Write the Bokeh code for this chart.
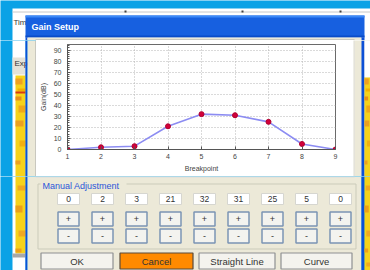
from bokeh.plotting import figure
from bokeh.models import Range1d, SingleIntervalTicker
from bokeh.layouts import column, row
from bokeh.embed import file_html
from bokeh.resources import INLINE
from bokeh.core.properties import value

# ---------------- data ----------------
breakpoints = [1, 2, 3, 4, 5, 6, 7, 8, 9]
gains = [0, 2, 3, 21, 32, 31, 25, 5, 0]
x_label = "Breakpoint"
y_label = "Gain(dB)"
title_text = "Gain Setup"
group_label = "Manual Adjustment"
button_labels = ["OK", "Cancel", "Straight Line", "Curve"]

FONT = value("Liberation Sans")
BLUE_BG = "#0aa2e6"
XP_BLUE = "#0b4fd6"
BEIGE = "#ece9d8"
YELLOW = "#f6d21a"


def gui_fig(x0, x1, y0, y1, bg):
    f = figure(width=x1 - x0, height=y1 - y0, x_range=Range1d(x0, x1),
               y_range=Range1d(y1, y0), output_backend="svg",
               toolbar_location=None, min_border=0, title=None,
               x_axis_location=None, y_axis_location=None)
    f.frame_align = False
    f.outline_line_color = None
    f.grid.visible = False
    f.background_fill_color = bg
    f.border_fill_color = bg
    return f


def box(f, l, r, t, b, fill, line=None, lw=1):
    f.quad(left=[l], right=[r], top=[t], bottom=[b], fill_color=fill,
           line_color=line, line_width=lw)


def txt(f, xs, ys, texts, size="9px", color="#222222", align="left", style="normal"):
    f.text(x=xs, y=ys, text=texts, text_font=FONT, text_font_size=size,
           text_color=color, text_align=align, text_baseline="middle",
           text_font_style=style)


# mottling of the radar image seen behind the dialog (fractions of strip width)
heat_patches = [(78, 84, 0.0, 0.7, "#f0a020"), (88, 91, 0.2, 1.0, "#f4b000"),
                (96, 100, 0.0, 0.6, "#e89018"), (105, 112, 0.3, 1.0, "#f0a818"),
                (120, 126, 0.0, 0.8, "#eba020"), (140, 146, 0.4, 1.0, "#f2b010"),
                (160, 164, 0.0, 0.5, "#eea020"), (185, 190, 0.2, 1.0, "#f0a820"),
                (205, 212, 0.0, 0.7, "#eca018"), (230, 236, 0.3, 1.0, "#f0a820"),
                (248, 252, 0.0, 0.6, "#eea018"), (262, 266, 0.3, 1.0, "#f0a820")]


def heat(f, x0, x1, y0, y1):
    box(f, x0, x1, y0, y1, YELLOW)
    w = x1 - x0
    for (a, b, l, r, c) in heat_patches:
        if b > y0 and a < y1:
            box(f, x0 + l * w, x0 + r * w, max(a, y0), min(b, y1), c)


# ---------------- top strip ----------------
top = gui_fig(0, 370, 0, 40, BLUE_BG)
box(top, 12, 370, 8, 40, "white")
top.segment(x0=[12], y0=[11.5], x1=[370], y1=[11.5], line_color="#c8c8c8")
top.quad(left=[124, 241, 339], right=[126, 243, 341], top=[10, 10, 10],
         bottom=[12, 12, 12], fill_color="#404040", line_color=None)
txt(top, [13], [22], ["Tim"], size="8px", color="#333333")
box(top, 25, 364, 15, 37, "#1760e0")
box(top, 25, 364, 15, 17, "#3d8af7")
box(top, 25, 364, 35, 37, "#0a4cc8")
txt(top, [31], [26.5], [title_text], size="9px", color="white", style="bold")
box(top, 25, 27, 37, 40, XP_BLUE)
box(top, 27, 361, 37, 40, BEIGE)
box(top, 361, 364, 37, 40, XP_BLUE)
top.segment(x0=[35], y0=[39.5], x1=[354], y1=[39.5], line_color="#a6a6a6")

# ---------------- left strip ----------------
left = gui_fig(0, 36, 40, 176, BLUE_BG)
box(left, 12, 25, 40, 176, "white")
box(left, 12, 25, 57, 74, "#e4e2d8")
txt(left, [14], [63], ["Exp"], size="8px", color="#333333")
heat(left, 15, 25, 75, 176)
box(left, 15, 25, 91, 93, "#d83a10")
box(left, 25, 27, 40, 176, XP_BLUE)
box(left, 27, 36, 40, 176, BEIGE)
left.segment(x0=[35.5], y0=[40], x1=[35.5], y1=[176], line_color="#a6a6a6")

# ---------------- right strip ----------------
right = gui_fig(353, 370, 40, 176, BEIGE)
box(right, 361, 364, 40, 176, XP_BLUE)
box(right, 364, 370, 40, 77, "white")
heat(right, 364, 370, 77, 176)
right.segment(x0=[353.5], y0=[40], x1=[353.5], y1=[176], line_color="#dcdcdc")

# ---------------- chart ----------------
p = figure(width=317, height=136, x_range=Range1d(1, 9), y_range=Range1d(0, 95),
           output_backend="svg", toolbar_location=None, title=None,
           min_border_left=31, min_border_right=18, min_border_top=4,
           min_border_bottom=27)
p.frame_align = False
p.background_fill_color = "white"
p.border_fill_color = "white"
p.outline_line_color = "#6a6a6a"
xt = SingleIntervalTicker(interval=1, num_minor_ticks=0)
yt = SingleIntervalTicker(interval=10, num_minor_ticks=5)
p.xaxis.ticker = xt
p.yaxis.ticker = yt
p.xgrid.ticker = xt
p.ygrid.ticker = yt
p.grid.grid_line_color = "#b4b4b4"
p.grid.grid_line_dash = "1 2"
for ax in p.axis:
    ax.axis_line_color = "#555555"
    ax.major_tick_in = 3
    ax.major_tick_out = 0
    ax.minor_tick_in = 2
    ax.minor_tick_out = 0
    ax.major_tick_line_color = "#555555"
    ax.minor_tick_line_color = "#555555"
    ax.major_label_text_font = "Liberation Sans"
    ax.major_label_text_font_size = "7px"
    ax.major_label_text_color = "#444444"
    ax.axis_label_text_font = "Liberation Sans"
    ax.axis_label_text_font_size = "7px"
    ax.axis_label_text_font_style = "normal"
    ax.axis_label_text_color = "#444444"
p.xaxis.axis_label = x_label
p.yaxis.axis_label = y_label
p.xaxis.major_label_standoff = 4
p.xaxis.axis_label_standoff = 3
p.yaxis.major_label_standoff = 6
p.yaxis.axis_label_standoff = 4
p.line(breakpoints, gains, line_color="#8c8cf2", line_width=1.6)
p.scatter(breakpoints, gains, size=5, fill_color="#d2003a", line_color="#b00030")

# ---------------- bottom panel ----------------
bot = gui_fig(0, 370, 176, 270, BLUE_BG)
box(bot, 12, 25, 176, 270, "white")
heat(bot, 15, 25, 176, 253)
box(bot, 12, 25, 253, 257, "#a8a8a8")
box(bot, 25, 27, 176, 270, XP_BLUE)
box(bot, 27, 361, 176, 270, BEIGE)
box(bot, 361, 364, 176, 270, XP_BLUE)
heat(bot, 364, 370, 176, 270)
bot.segment(x0=[35], y0=[176.5], x1=[354], y1=[176.5], line_color="#dcdcdc")
bot.quad(left=[37.5], right=[355.5], top=[183.5], bottom=[248.5],
         fill_color=None, line_color="#cbcbba")
box(bot, 40, 126, 180, 189, BEIGE)
txt(bot, [42], [185], [group_label], size="9px", color="#2b55d8")

lefts = [57 + 34 * i for i in range(len(gains))]
centers = [l + 11 for l in lefts]
rights = [l + 22 for l in lefts]
n = len(gains)
bot.quad(left=lefts, right=rights, top=[193] * n, bottom=[204] * n,
         fill_color="white", line_color="#d6d6d0")
txt(bot, centers, [198.5] * n, [str(v) for v in gains], size="8.5px",
    color="#333333", align="center")
bot.quad(left=[l + 0.5 for l in lefts], right=[r - 0.5 for r in rights],
         top=[211.5] * n, bottom=[225.5] * n,
         fill_color="#f3f3ef", line_color="#7b94b4", line_width=1.5)
txt(bot, centers, [218.5] * n, ["+"] * n, size="9px", color="#333333", align="center")
bot.quad(left=[l + 0.5 for l in lefts], right=[r - 0.5 for r in rights],
         top=[228.5] * n, bottom=[242.5] * n,
         fill_color="#f3f3ef", line_color="#7b94b4", line_width=1.5)
txt(bot, centers, [235.5] * n, ["-"] * n, size="9px", color="#333333", align="center")

btn_l = [40, 119, 198, 280]
btn_r = [113, 193, 275, 352]
btn_fill = ["#f4f3ee", "#ff8a00", "#f4f3ee", "#f4f3ee"]
btn_line = ["#8e9092", "#5a4a3a", "#8e9092", "#8e9092"]
bot.quad(left=[l + 0.5 for l in btn_l], right=[r - 0.5 for r in btn_r],
         top=[252.5] * 4, bottom=[268.5] * 4, fill_color=btn_fill,
         line_color=btn_line, line_width=1.2)
txt(bot, [(l + r) / 2 for l, r in zip(btn_l, btn_r)], [260.5] * 4, button_labels,
    size="9.5px", color="#333333", align="center")

layout = column(top, row(left, p, right, spacing=0), bot, spacing=0)
open("out.html", "w").write(file_html(layout, INLINE))
